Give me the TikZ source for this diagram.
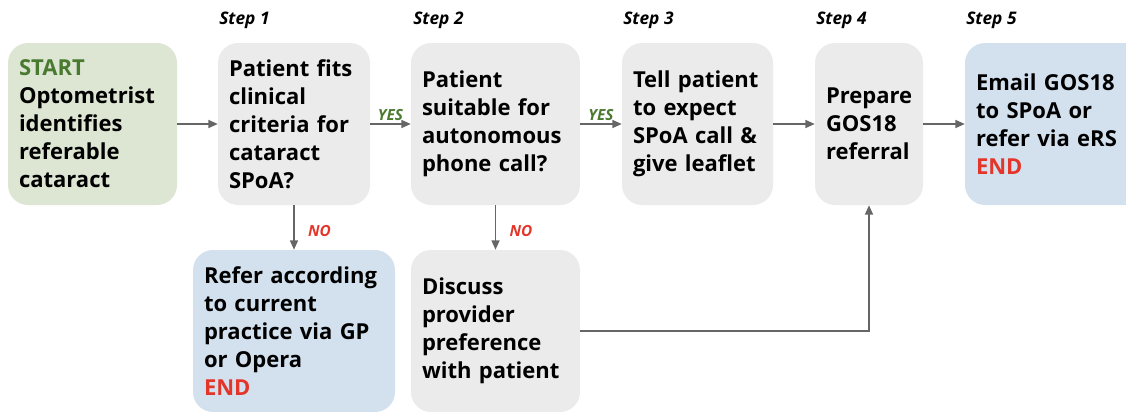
\documentclass[tikz,border=0pt]{standalone}
\usepackage{fontspec}
\setmainfont{Open Sans}
\usepackage{tikz}
\usetikzlibrary{arrows.meta}
\definecolor{boxgray}{HTML}{EBEBEB}
\definecolor{boxgreen}{HTML}{DCE6D3}
\definecolor{boxblue}{HTML}{D3E1EF}
\definecolor{txtgreen}{HTML}{4A7A30}
\definecolor{txtred}{HTML}{E3352A}
\definecolor{linegray}{HTML}{666666}
\tikzset{
	box/.style={
		shape = rectangle,
		rounded corners = 15pt,
		minimum height = 121.5pt,
		inner xsep = 8.25pt,
		align = left,
		font = \fontsize{16.5}{21}\selectfont\bfseries
	},
	steplabel/.style={
		anchor = base west,
		inner sep = 0pt,
		font = \fontsize{13}{15}\selectfont\bfseries\itshape
	},
	yes/.style={
		anchor = south,
		text = txtgreen,
		inner sep = 2pt,
		font = \fontsize{11.5}{13}\selectfont\bfseries\itshape
	},
	no/.style={
		anchor = west,
		text = txtred,
		inner sep = 0pt,
		font = \fontsize{11.5}{13}\selectfont\bfseries\itshape
	},
	link/.style={
		->,
		draw = linegray,
		line width = 1.1pt
	},
}
\tikzset{>={Triangle[length=7pt, width=6pt]}}
\begin{document}
\begin{tikzpicture}[x=0.75pt, y=-0.75pt]
    \useasboundingbox (0,0) rectangle (1126,411);
    % boxes of the main row
    \node[box, fill=boxgreen, text width=110.25pt] (start) at (92.5,124)
      {\textcolor{txtgreen}{START}\\Optometrist\\identifies\\referable\\cataract};
    \node[box, fill=boxgray, text width=97.5pt] (crit) at (294,124)
      {Patient fits\\clinical\\criteria for\\cataract\\SPoA?};
    \node[box, fill=boxgray, text width=110.25pt] (phone) at (495.5,124)
      {Patient\\suitable for\\autonomous\\phone call?};
    \node[box, fill=boxgray, text width=96.75pt] (tell) at (697.5,124)
      {Tell patient\\to expect\\SPoA call \&\\give leaflet};
    \node[box, fill=boxgray, text width=64.5pt] (prep) at (869,124)
      {Prepare\\GOS18\\referral};
    \node[box, fill=boxblue, text width=118.5pt] (email) at (1055,124)
      {Email GOS18\\to SPoA or\\refer via eRS\\\textcolor{txtred}{END}};
    % boxes of the lower row
    \node[box, fill=boxblue, text width=135pt] (refer) at (294,331)
      {Refer according\\to current\\practice via GP\\or Opera\\\textcolor{txtred}{END}};
    \node[box, fill=boxgray, text width=110.25pt] (discuss) at (495.5,331)
      {Discuss\\provider\\preference\\with patient};
    % step labels
    \node[steplabel] (l1) at (219,24) {Step 1};
    \node[steplabel] (l2) at (413,24) {Step 2};
    \node[steplabel] (l3) at (623,24) {Step 3};
    \node[steplabel] (l4) at (816,24) {Step 4};
    \node[steplabel] (l5) at (966,24) {Step 5};
    % connectors
    \draw[link] (start) -- (crit);
    \draw[link] (crit) -- node[yes] {YES} (phone);
    \draw[link] (phone) -- node[yes] {YES} (tell);
    \draw[link] (tell) -- (prep);
    \draw[link] (prep) -- (email);
    \draw[link] (crit) -- node[no, xshift=10pt, yshift=-3pt] {NO} (refer);
    \draw[link] (phone) -- node[no, xshift=10pt, yshift=-3pt] {NO} (discuss);
    \draw[link] (discuss.east) -| (prep.south);
  \end{tikzpicture}
\end{document}
